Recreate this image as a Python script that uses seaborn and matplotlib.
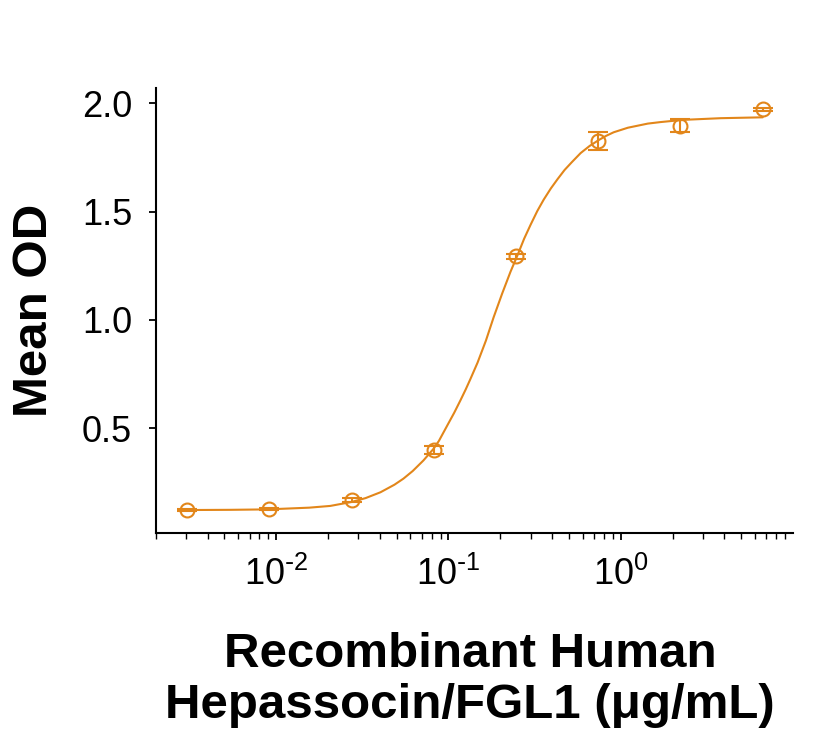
import matplotlib
matplotlib.use("Agg")
import matplotlib.pyplot as plt
import seaborn as sns

# ---------------------------------------------------------------------------
# Données
# ---------------------------------------------------------------------------
concentration = [0.003048, 0.009145, 0.02743, 0.08230, 0.2469, 0.7407, 2.222, 6.667]
mean_od = [0.122, 0.126, 0.169, 0.400, 1.293, 1.826, 1.897, 1.972]
sd_od = [0.005, 0.005, 0.008, 0.020, 0.012, 0.040, 0.030, 0.006]

# courbe ajustée (points relevés le long du tracé)
curve_x = [0.00299, 0.00541, 0.00887, 0.01556, 0.0206, 0.0273, 0.033, 0.0403,
           0.0486, 0.0548, 0.062, 0.0716, 0.0818, 0.088, 0.0987, 0.108, 0.1175,
           0.126, 0.134, 0.1475, 0.165, 0.183, 0.205, 0.229, 0.252, 0.275,
           0.300, 0.328, 0.357, 0.393, 0.430, 0.472, 0.52, 0.585, 0.66, 0.745,
           0.82, 0.910, 1.1, 1.435, 1.7, 2.03, 2.42, 3.81, 6.67]
curve_y = [0.123, 0.124, 0.126, 0.134, 0.142, 0.160, 0.178, 0.205, 0.240,
           0.268, 0.303, 0.352, 0.405, 0.442, 0.515, 0.572, 0.630, 0.680,
           0.727, 0.803, 0.905, 1.013, 1.122, 1.222, 1.300, 1.375, 1.440,
           1.503, 1.555, 1.607, 1.650, 1.692, 1.728, 1.770, 1.803, 1.830,
           1.849, 1.866, 1.887, 1.906, 1.913, 1.919, 1.924, 1.931, 1.935]

y_ticks = [0.5, 1.0, 1.5, 2.0]
x_ticks = [0.01, 0.1, 1]
x_tick_labels = [r"$10^{\text{-}2}$", r"$10^{\text{-}1}$", r"$10^{0}$"]

COULEUR = "#E2861A"

# ---------------------------------------------------------------------------
# Style
# ---------------------------------------------------------------------------
sns.set_theme(style="ticks")
plt.rcParams["font.family"] = ["Liberation Sans", "DejaVu Sans"]
plt.rcParams["axes.unicode_minus"] = False
plt.rcParams["mathtext.default"] = "regular"
plt.rcParams["text.color"] = "black"

fig = plt.figure(figsize=(8.33, 7.4), dpi=100)
ax = fig.add_axes([0.187, 0.280, 0.765, 0.601])

sns.lineplot(x=curve_x, y=curve_y, ax=ax, color=COULEUR, linewidth=1.5)
ax.errorbar(concentration, mean_od, yerr=sd_od, fmt="o", mfc="none",
            mec=COULEUR, ms=10, mew=1.5, ecolor=COULEUR, elinewidth=1.5,
            capsize=7, capthick=1.5)

ax.set_xscale("log")
ax.set_xlim(0.002, 10)
ax.set_ylim(0.018, 2.07)
ax.set_xticks(x_ticks)
ax.set_xticklabels(x_tick_labels)
ax.set_yticks(y_ticks)
ax.set_yticklabels([f"{v:.1f}" for v in y_ticks])

sns.despine(ax=ax)
for s in ("left", "bottom"):
    ax.spines[s].set_linewidth(1.5)
    ax.spines[s].set_color("black")

ax.tick_params(axis="both", which="major", labelsize=26, length=5, width=1.3,
               color="black", labelcolor="black", pad=12)
ax.tick_params(axis="x", which="minor", length=4, width=1.0, color="black")

fig.text(35 / 833, 1 - 310 / 740, "Mean OD", rotation=90, ha="center",
         va="center", fontsize=35.5, fontweight="bold", color="black")
fig.text(470 / 833, 1 - 680 / 740, "Recombinant Human\nHepassocin/FGL1 (μg/mL)",
         ha="center", va="center", fontsize=35.5, fontweight="bold",
         color="black", multialignment="center", linespacing=1.15)

fig.savefig("out.png", dpi=100)
plt.close(fig)
